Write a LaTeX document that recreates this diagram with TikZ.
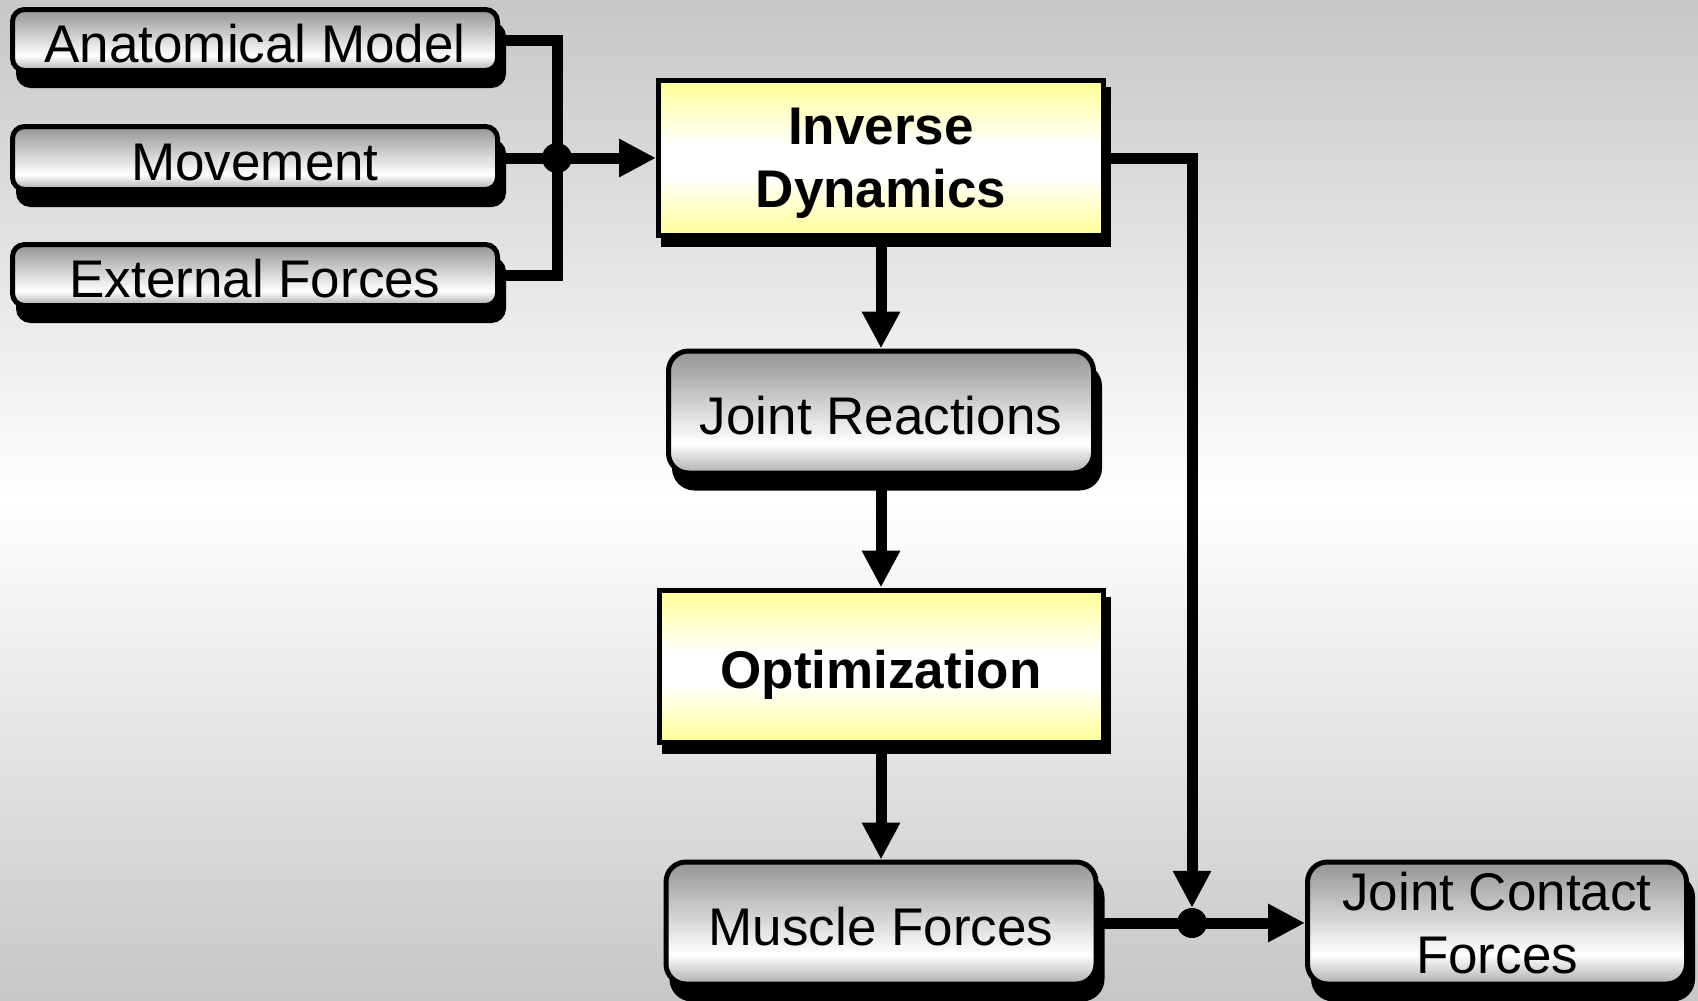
\documentclass[tikz,border=0pt]{standalone}
\usepackage{fontspec}
\setmainfont{Liberation Sans}
\usetikzlibrary{arrows.meta}
\definecolor{gtop}{gray}{0.58}
\definecolor{gbot}{gray}{0.68}
\definecolor{ylw}{RGB}{255,255,150}
\definecolor{bgg}{gray}{0.78}
\pgfdeclareverticalshading{grayfill}{100bp}{color(0bp)=(gbot); color(25bp)=(gbot); color(37bp)=(white); color(75bp)=(gtop); color(100bp)=(gtop)}
\pgfdeclareverticalshading{yellowfill}{100bp}{color(0bp)=(ylw); color(25bp)=(ylw); color(44bp)=(white); color(54bp)=(white); color(75bp)=(ylw); color(100bp)=(ylw)}
\pgfdeclareverticalshading{bgfill}{100bp}{color(0bp)=(bgg); color(25bp)=(bgg); color(50bp)=(white); color(75bp)=(bgg); color(100bp)=(bgg)}
\tikzset{
  txt/.style={font=\fontsize{53}{63}\selectfont, align=center, inner sep=0pt},
  oneline/.style={text height=44pt, text depth=0pt},
  twolines/.style={text depth=-7pt},
  graybox/.style={txt, draw, line width=5pt, shading=grayfill,
    preaction={draw=black, fill=black, line width=5pt, transform canvas={xshift=6pt,yshift=-15pt}}},
  smallbox/.style={graybox, rounded corners=12pt},
  bigbox/.style={graybox, rounded corners=20pt},
  yellowbox/.style={txt, font=\fontsize{53}{63}\selectfont\bfseries, draw, line width=5pt, shading=yellowfill,
    preaction={draw=black, fill=black, line width=5pt, transform canvas={xshift=5pt,yshift=-9pt}}},
  dot/.style={circle, fill=black, minimum size=30pt, inner sep=0pt},
  wire/.style={line width=11pt, line join=miter},
  arr/.style={-{Triangle[length=37pt,width=36pt]}}
}
\begin{document}
\begin{tikzpicture}[x=1pt,y=-1pt]
\useasboundingbox (0,0) rectangle (1698,1001);
\shade[shading=bgfill] (0,0) rectangle (1698,1001);

\node[smallbox, oneline, minimum width=485pt, minimum height=61pt] (am) at (255,40) {Anatomical Model};
\node[smallbox, oneline, minimum width=485pt, minimum height=63pt] (mv) at (255,158) {Movement};
\node[smallbox, oneline, minimum width=485pt, minimum height=61pt] (ef) at (255,275) {External Forces};

\node[yellowbox, twolines, minimum width=445pt, minimum height=155pt] (id) at (881,158) {Inverse\\Dynamics};
\node[bigbox, oneline, minimum width=425pt, minimum height=122pt] (jr) at (881,412) {Joint Reactions};
\node[yellowbox, oneline, minimum width=444pt, minimum height=152pt] (op) at (881,666) {Optimization};
\node[bigbox, oneline, minimum width=430pt, minimum height=122pt] (mf) at (881,923) {Muscle Forces};
\node[bigbox, twolines, minimum width=379pt, minimum height=122pt] (jc) at (1497,923) {Joint Contact\\Forces};

\node[dot] (j1) at (557,158) {};
\node[dot] (j2) at (1192,923) {};

\draw[wire] (am.east) -| (j1.center) |- (ef.east);
\draw[wire] (mv.east) -- (j1.center);
\draw[wire, arr] (j1.center) -- (id.west);
\draw[wire, arr] (id.south) -- (jr.north);
\draw[wire, arr] (jr.south) -- (op.north);
\draw[wire, arr] (op.south) -- (mf.north);
\draw[wire, arr] (id.east) -| (j2.north);
\draw[wire] (mf.east) -- (j2.center);
\draw[wire, arr] (j2.center) -- (jc.west);
\end{tikzpicture}
\end{document}
